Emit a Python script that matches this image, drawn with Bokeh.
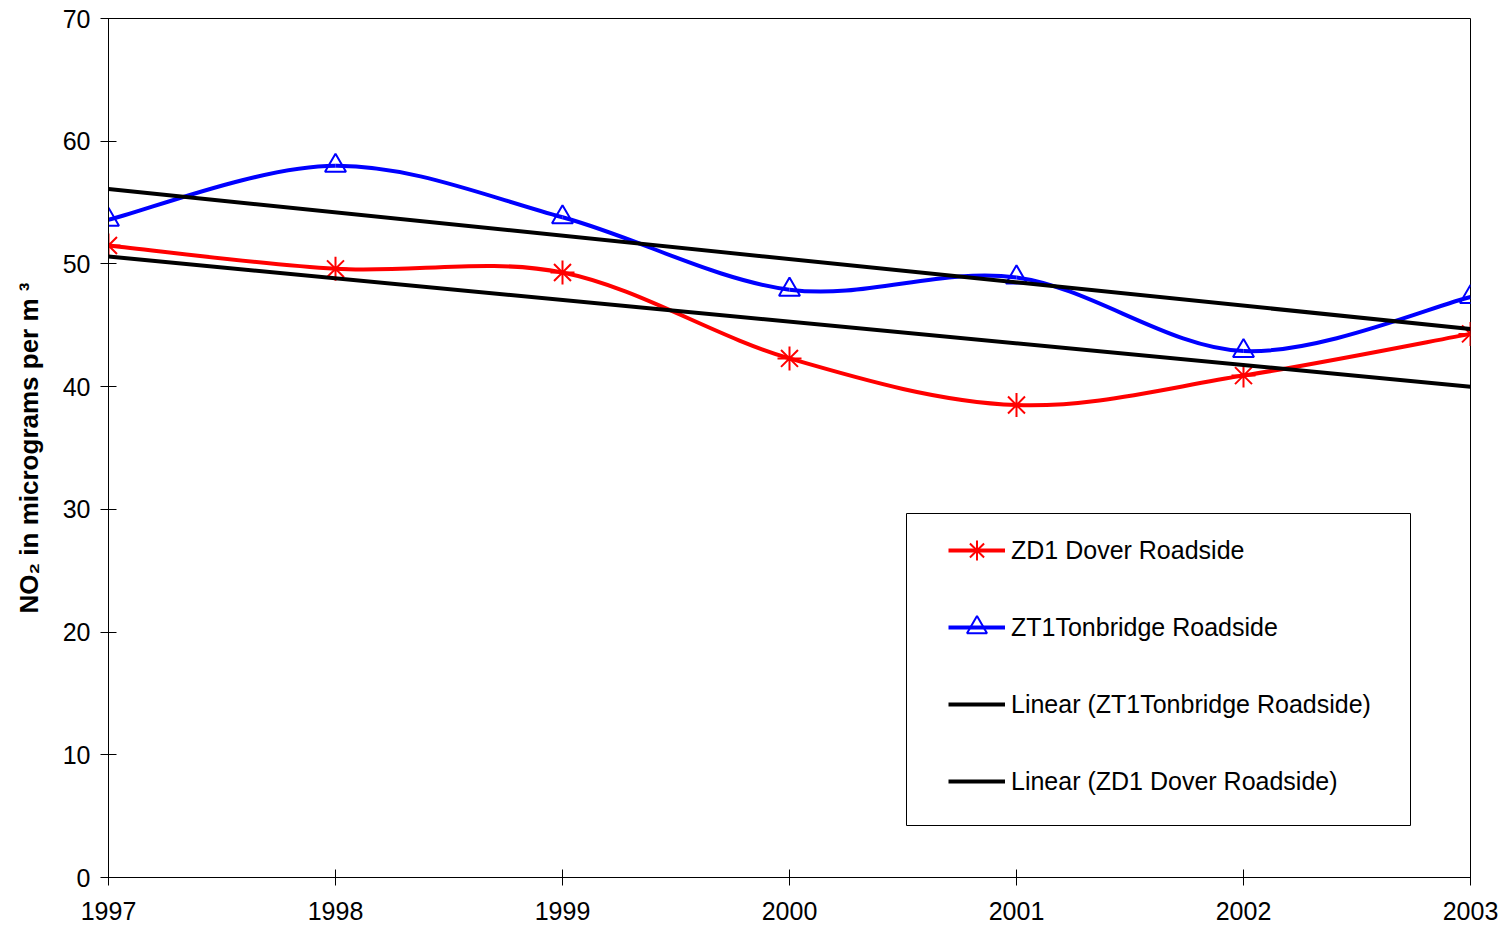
import numpy as np
from bokeh.plotting import figure
from bokeh.models import (FixedTicker, Legend, LegendItem, BoxAnnotation, Range1d)
from bokeh.embed import file_html
from bokeh.resources import INLINE

years = [1997, 1998, 1999, 2000, 2001, 2002, 2003]
dover = [51.5, 49.6, 49.3, 42.3, 38.5, 40.9, 44.3]
tonbridge = [53.6, 58.0, 53.8, 47.9, 48.9, 42.9, 47.3]
trend_years = [1997, 2003]
tonbridge_trend = [56.1, 44.7]
dover_trend = [50.6, 40.0]
y_ticks = [0, 10, 20, 30, 40, 50, 60, 70]

FONT = "Liberation Sans"

p = figure(width=1500, height=927, output_backend="svg", toolbar_location=None,
           x_range=Range1d(1997, 2003), y_range=Range1d(0, 70),
           min_border_left=108, min_border_right=30, min_border_top=18, min_border_bottom=50)
p.xgrid.visible = False
p.ygrid.visible = False
p.outline_line_color = "black"
p.outline_line_width = 1
p.background_fill_color = "white"
p.border_fill_color = "white"


def smooth_segments(xs, ys):
    x = np.asarray(xs, dtype=float)
    y = np.asarray(ys, dtype=float)
    n = len(x)
    d = dict(x0=[], y0=[], x1=[], y1=[], cx0=[], cy0=[], cx1=[], cy1=[])
    for i in range(n - 1):
        i0 = max(i - 1, 0)
        i3 = min(i + 2, n - 1)
        d["x0"].append(x[i]); d["y0"].append(y[i])
        d["x1"].append(x[i + 1]); d["y1"].append(y[i + 1])
        d["cx0"].append(x[i] + (x[i + 1] - x[i0]) / 6)
        d["cy0"].append(y[i] + (y[i + 1] - y[i0]) / 6)
        d["cx1"].append(x[i + 1] - (x[i3] - x[i]) / 6)
        d["cy1"].append(y[i + 1] - (y[i3] - y[i]) / 6)
    return d


dover_curve = p.bezier(source=smooth_segments(years, dover), x0="x0", y0="y0", x1="x1", y1="y1",
                       cx0="cx0", cy0="cy0", cx1="cx1", cy1="cy1", line_color="#FF0000", line_width=4)
ton_curve = p.bezier(source=smooth_segments(years, tonbridge), x0="x0", y0="y0", x1="x1", y1="y1",
                     cx0="cx0", cy0="cy0", cx1="cx1", cy1="cy1", line_color="#0000FF", line_width=4)
dover_pts = p.scatter(years, dover, marker="asterisk", size=24, line_color="#FF0000", line_width=2)
ton_pts = p.scatter(years, tonbridge, marker="triangle", size=21, line_color="#0000FF", line_width=2,
                    fill_color=None)
ton_tr = p.line(trend_years, tonbridge_trend, line_color="black", line_width=4)
dov_tr = p.line(trend_years, dover_trend, line_color="black", line_width=4)

# axes
for ax in (p.xaxis, p.yaxis):
    ax.axis_line_color = "black"
    ax.axis_line_width = 1
    ax.major_tick_line_color = "black"
    ax.major_tick_line_width = 1
    ax.minor_tick_line_color = None
    ax.major_label_text_font = FONT
    ax.major_label_text_font_size = "25px"
    ax.major_label_text_color = "black"
    ax.major_tick_out = 8
    ax.major_tick_in = 8

p.xaxis.ticker = FixedTicker(ticks=years)
p.yaxis.ticker = FixedTicker(ticks=y_ticks)
p.xaxis.major_label_standoff = 16
p.yaxis.major_label_standoff = 10
p.yaxis.axis_label = "NO\u2082 in micrograms per m \u00b3"
p.yaxis.axis_label_text_font = FONT
p.yaxis.axis_label_text_font_size = "26px"
p.yaxis.axis_label_text_font_style = "bold"
p.yaxis.axis_label_text_color = "black"
p.yaxis.axis_label_standoff = 16

# legend frame
p.add_layout(BoxAnnotation(left=798, right=1302, bottom=52, top=364,
                           left_units="screen", right_units="screen",
                           bottom_units="screen", top_units="screen",
                           fill_color=None, line_color="black", line_alpha=1.0,
                           line_width=1, level="overlay"))

legend = Legend(items=[
    LegendItem(label="ZD1 Dover Roadside", renderers=[dover_curve, dover_pts]),
    LegendItem(label="ZT1Tonbridge Roadside", renderers=[ton_curve, ton_pts]),
    LegendItem(label="Linear (ZT1Tonbridge Roadside)", renderers=[ton_tr]),
    LegendItem(label="Linear (ZD1 Dover Roadside)", renderers=[dov_tr]),
], location=(830, 61), padding=10, margin=0, spacing=27,
    glyph_width=57, glyph_height=50, label_height=50, label_standoff=6,
    label_text_font=FONT, label_text_font_size="25px", label_text_color="black",
    border_line_alpha=0, background_fill_alpha=0)
p.add_layout(legend, "center")

open("out.html", "w").write(file_html(p, INLINE))
